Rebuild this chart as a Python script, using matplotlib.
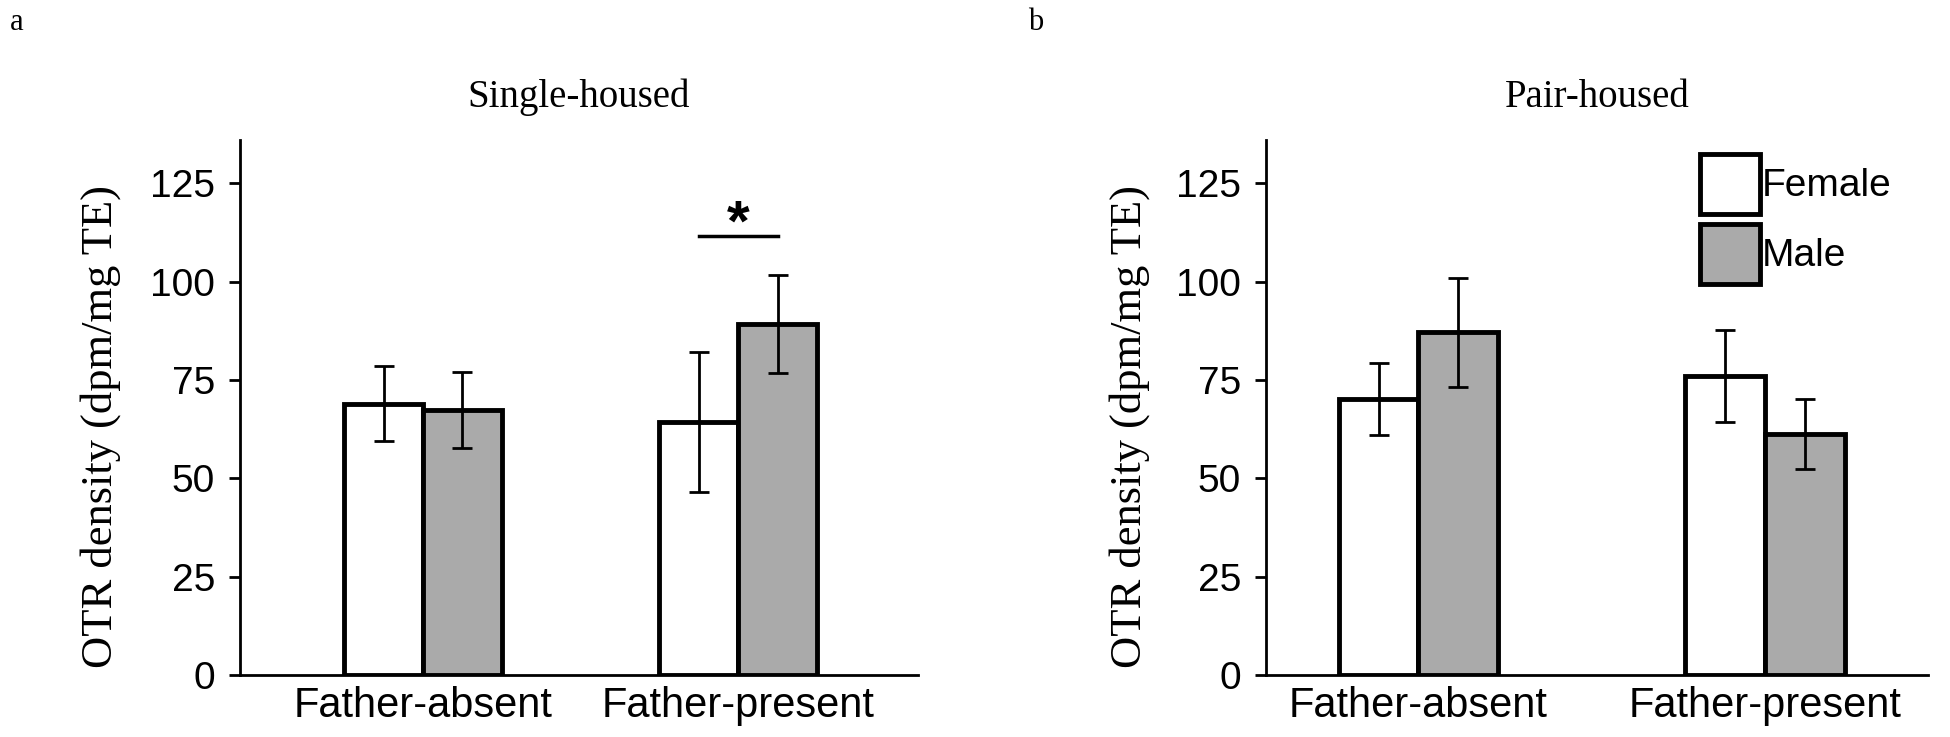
import numpy as np
import matplotlib.pyplot as plt
from matplotlib.patches import Patch

# data (mean +/- SE)
groups = ['Father-absent', 'Father-present']
single_female = [69.0, 64.3]
single_female_err = [9.5, 17.7]
single_male = [67.3, 89.3]
single_male_err = [9.7, 12.5]
pair_female = [70.2, 76.0]
pair_female_err = [9.2, 11.8]
pair_male = [87.1, 61.3]
pair_male_err = [13.8, 8.9]
yticks = [0, 25, 50, 75, 100, 125]

GRAY = '#aaaaaa'
sans = ['Liberation Sans', 'DejaVu Sans']
serif = ['Liberation Serif', 'DejaVu Serif']

fig = plt.figure(figsize=(19.5, 7.37), dpi=100)
ax1 = fig.add_axes([0.1231, 0.0841, 0.3477, 0.726])
ax2 = fig.add_axes([0.6492, 0.0841, 0.3395, 0.726])

def panel(ax, fem, fem_err, mal, mal_err, title, width, xlim):
    x = np.arange(len(groups))
    kw = dict(edgecolor='black', linewidth=3.5, zorder=2)
    ekw = dict(elinewidth=2, capthick=2, capsize=7, ecolor='black')
    ax.bar(x - width / 2, fem, width, color='white', yerr=fem_err,
           error_kw=ekw, **kw)
    ax.bar(x + width / 2, mal, width, color=GRAY, yerr=mal_err,
           error_kw=ekw, **kw)
    ax.set_xlim(*xlim)
    ax.set_ylim(0, 136)
    ax.set_yticks(yticks)
    ax.set_yticklabels([str(t) for t in yticks], family=sans, fontsize=28)
    ax.set_xticks(x)
    ax.set_xticklabels(groups, family=sans, fontsize=30)
    ax.tick_params(axis='x', length=0, pad=8)
    ax.tick_params(axis='y', length=8, width=2, pad=10)
    for s in ['top', 'right']:
        ax.spines[s].set_visible(False)
    for s in ['left', 'bottom']:
        ax.spines[s].set_linewidth(2)
    ax.set_ylabel('OTR density (dpm/mg TE)', family=serif, fontsize=32)
    ax.yaxis.set_label_coords(-0.175, 0.464)
    ax.set_title(title, family=serif, fontsize=28, pad=24)
    return x

w1 = 0.25
x1 = panel(ax1, single_female, single_female_err, single_male, single_male_err,
           'Single-housed', w1, (-0.58, 1.57))
panel(ax2, pair_female, pair_female_err, pair_male, pair_male_err,
      'Pair-housed', 0.23, (-0.44, 1.47))

# significance marker in single-housed, father-present
ax1.plot([x1[1] - w1 / 2, x1[1] + w1 / 2], [111.5, 111.5], color='black', lw=2.5)
ax1.text(x1[1], 107.5, '*', ha='center', va='bottom', fontsize=42,
         fontweight='bold', family=sans)

handles = [Patch(facecolor='white', edgecolor='black', linewidth=3.5),
           Patch(facecolor=GRAY, edgecolor='black', linewidth=3.5)]
ax2.legend(handles, ['Female', 'Male'], loc='upper left',
           bbox_to_anchor=(0.626, 1.01), frameon=False, borderpad=0,
           handlelength=1.55, handleheight=2.0, labelspacing=0.25,
           handletextpad=0.05, prop={'family': sans, 'size': 28})

fig.text(0.005, 0.97, 'a', family=serif, fontsize=22, va='center')
fig.text(0.527, 0.97, 'b', family=serif, fontsize=22, va='center')

fig.savefig('out.png', dpi=100)
